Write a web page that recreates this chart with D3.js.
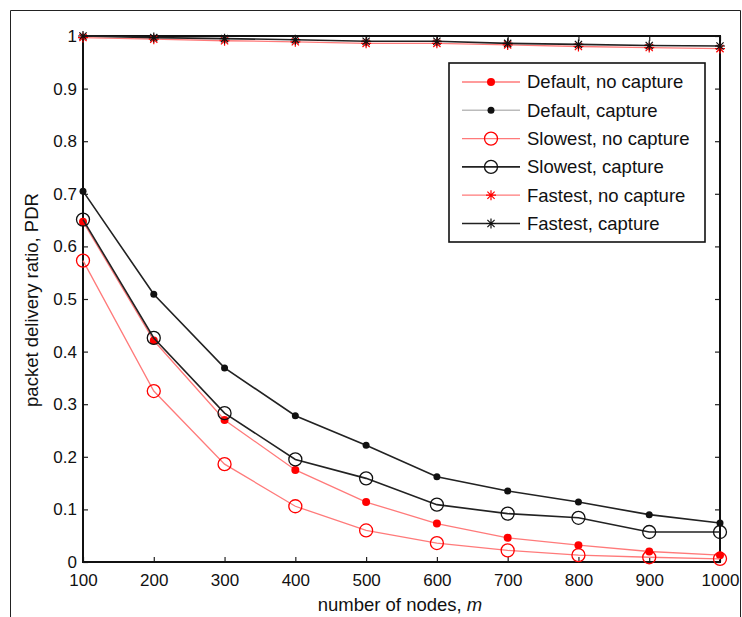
<!DOCTYPE html>
<html>
<head>
<meta charset="utf-8">
<script src="https://cdn.jsdelivr.net/npm/d3@7"></script>
<style>
  body { margin: 0; background: #fff; }
  svg text { font-family: "Liberation Sans", Arial, Helvetica, sans-serif; fill: #111; }
</style>
</head>
<body>
<svg id="pdr"></svg>
<script>
// data
const nodes = [100, 200, 300, 400, 500, 600, 700, 800, 900, 1000];
const defaultNoCapture = [0.647, 0.421, 0.270, 0.175, 0.114, 0.073, 0.046, 0.032, 0.020, 0.013];
const defaultCapture = [0.705, 0.509, 0.369, 0.278, 0.222, 0.162, 0.135, 0.114, 0.090, 0.074];
const slowestNoCapture = [0.573, 0.325, 0.186, 0.106, 0.060, 0.036, 0.022, 0.013, 0.009, 0.006];
const slowestCapture = [0.651, 0.426, 0.283, 0.195, 0.159, 0.109, 0.092, 0.084, 0.057, 0.057];
const fastestNoCapture = [0.997, 0.994, 0.991, 0.989, 0.986, 0.986, 0.983, 0.980, 0.978, 0.976];
const fastestCapture = [1.000, 0.997, 0.995, 0.993, 0.990, 0.990, 0.986, 0.984, 0.982, 0.981];
const yTicks = [0, 0.1, 0.2, 0.3, 0.4, 0.5, 0.6, 0.7, 0.8, 0.9, 1];
const seriesNames = ["Default, no capture", "Default, capture", "Slowest, no capture",
  "Slowest, capture", "Fastest, no capture", "Fastest, capture"];

var series = [
  { name: seriesNames[0], values: defaultNoCapture, color: "red", line: "#ff7a7a", marker: "dot" },
  { name: seriesNames[1], values: defaultCapture, color: "#111", line: "#222", marker: "dot" },
  { name: seriesNames[2], values: slowestNoCapture, color: "red", line: "#ff7a7a", marker: "circle" },
  { name: seriesNames[3], values: slowestCapture, color: "#111", line: "#222", marker: "circle" },
  { name: seriesNames[4], values: fastestNoCapture, color: "red", line: "#ff7a7a", marker: "star" },
  { name: seriesNames[5], values: fastestCapture, color: "#111", line: "#222", marker: "star" }
];

// Step 1: dimensions
const W = 742, H = 617;
const margin = { top: 36, right: 22, bottom: 55, left: 83 };
const width = 720 - margin.left;
const height = 562 - margin.top;

var svg = d3.select("#pdr").attr("width", W).attr("height", H);

// outer frame of the figure
svg.append("path")
  .attr("d", "M10.5," + H + "V10.5H740.5V" + H)
  .attr("fill", "none")
  .attr("stroke", "#222")
  .attr("stroke-width", 1);

var g = svg.append("g")
  .attr("transform", "translate(" + margin.left + "," + margin.top + ")");

// Step 2: scales
var x = d3.scaleLinear().domain([100, 1000]).range([0, width]);
var y = d3.scaleLinear().domain([0, 1]).range([height, 0]);

// Step 3: axes (ticks point inwards, box on all four sides)
function styleAxis(sel) {
  sel.select(".domain").remove();
  sel.selectAll(".tick line").attr("stroke", "#222").attr("stroke-width", 1.2);
  sel.selectAll(".tick text").style("font-size", "17px").attr("fill", "#000");
}

g.append("g")
  .attr("transform", "translate(0," + height + ")")
  .call(d3.axisBottom(x).tickValues(nodes).tickFormat(d3.format("d"))
    .tickSizeInner(-5).tickSizeOuter(0).tickPadding(12))
  .call(styleAxis);

g.append("g")
  .call(d3.axisLeft(y).tickValues(yTicks).tickFormat(d3.format(""))
    .tickSizeInner(-5).tickSizeOuter(0).tickPadding(6))
  .call(styleAxis);

g.append("g")
  .call(d3.axisTop(x).tickValues(nodes).tickSizeInner(-5).tickSizeOuter(0).tickFormat(""))
  .call(styleAxis);

g.append("g")
  .attr("transform", "translate(" + width + ",0)")
  .call(d3.axisRight(y).tickValues(yTicks).tickSizeInner(-5).tickSizeOuter(0).tickFormat(""))
  .call(styleAxis);

g.append("rect")
  .attr("width", width)
  .attr("height", height)
  .attr("fill", "none")
  .attr("stroke", "#111")
  .attr("stroke-width", 2);

// Step 4: lines and markers
var line = d3.line()
  .x(function(d, i) { return x(nodes[i]); })
  .y(function(d) { return y(d); });

function drawMarker(sel, s, cx, cy) {
  if (s.marker === "dot") {
    sel.append("circle").attr("cx", cx).attr("cy", cy)
      .attr("r", s.color === "red" ? 4 : 3.5).attr("fill", s.color);
  } else if (s.marker === "circle") {
    sel.append("circle").attr("cx", cx).attr("cy", cy).attr("r", 6.5)
      .attr("fill", "none").attr("stroke", s.color).attr("stroke-width", 1.3);
  } else {
    var r = 5, k = 3.6;
    sel.append("path")
      .attr("d", "M" + cx + "," + (cy - r) + "V" + (cy + r) +
        "M" + (cx - r) + "," + cy + "H" + (cx + r) +
        "M" + (cx - k) + "," + (cy - k) + "L" + (cx + k) + "," + (cy + k) +
        "M" + (cx - k) + "," + (cy + k) + "L" + (cx + k) + "," + (cy - k))
      .attr("stroke", s.color).attr("stroke-width", 1.2).attr("fill", "none");
  }
}

series.forEach(function(s) {
  g.append("path")
    .datum(s.values)
    .attr("d", line)
    .attr("fill", "none")
    .attr("stroke", s.line)
    .attr("stroke-width", s.color === "red" ? 1.3 : 1.6);
  var mg = g.append("g");
  s.values.forEach(function(v, i) {
    drawMarker(mg, s, x(nodes[i]), y(v));
  });
});

// Step 5: legend
var lg = svg.append("g");
lg.append("rect")
  .attr("x", 449).attr("y", 63)
  .attr("width", 256).attr("height", 179)
  .attr("fill", "#fff").attr("stroke", "#111").attr("stroke-width", 1.6);

series.forEach(function(s, i) {
  var ly = 82 + i * 28.3;
  lg.append("line")
    .attr("x1", 462).attr("x2", 520).attr("y1", ly).attr("y2", ly)
    .attr("stroke", i === 1 ? "#bbb" : s.line).attr("stroke-width", s.color === "red" ? 1.3 : 1.6);
  drawMarker(lg, s, 491, ly);
  lg.append("text")
    .attr("x", 527).attr("y", ly)
    .attr("dy", "0.35em")
    .style("font-size", "18.5px")
    .text(s.name);
});

// Step 6: axis titles
var xt = svg.append("text")
  .attr("x", 400).attr("y", 611)
  .attr("text-anchor", "middle")
  .style("font-size", "18.5px");
xt.append("tspan").text("number of nodes, ");
xt.append("tspan").style("font-style", "italic").text("m");

svg.append("text")
  .attr("transform", "translate(38,300) rotate(-90)")
  .attr("text-anchor", "middle")
  .style("font-size", "18.5px")
  .text("packet delivery ratio, PDR");
</script>
</body>
</html>
